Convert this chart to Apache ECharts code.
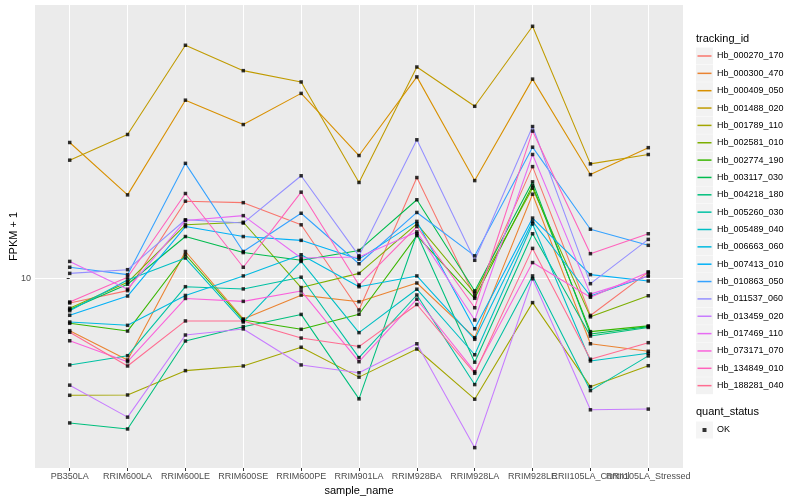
<!DOCTYPE html>
<html><head><meta charset="utf-8">
<script src="https://cdn.jsdelivr.net/npm/echarts@6/dist/echarts.min.js"></script>
<style>html,body{margin:0;padding:0;background:#fff}#c{width:800px;height:500px}</style>
</head><body><div id="c"></div>
<script>
const sampleNames = ['PB350LA','RRIM600LA','RRIM600LE','RRIM600SE','RRIM600PE','RRIM901LA','RRIM928BA','RRIM928LA','RRIM928LE','RRII105LA_Control','RRII105LA_Stressed'];
const trackingIds = ['Hb_000270_170','Hb_000300_470','Hb_000409_050','Hb_001488_020','Hb_001789_110','Hb_002581_010','Hb_002774_190','Hb_003117_030','Hb_004218_180','Hb_005260_030','Hb_005489_040','Hb_006663_060','Hb_007413_010','Hb_010863_050','Hb_011537_060','Hb_013459_020','Hb_017469_110','Hb_073171_070','Hb_134849_010','Hb_188281_040'];
const seriesColors = ['#F8766D','#EA8331','#D89000','#C09B00','#A3A500','#7CAE00','#39B600','#00BB4E','#00BF7D','#00C1A3','#00BFC4','#00BAE0','#00B0F6','#35A2FF','#9590FF','#C77CFF','#E76BF3','#FA62DB','#FF62BC','#FF6C91'];

// FPKM + 1 per sample (same order as sampleNames)
const Hb_000270_170 = [8.29, 9.11, 18.1, 17.9, 15.1, 7.85, 21.7, 8.70, 23.6, 7.53, 10.5];
const Hb_000300_470 = [6.70, 5.35, 12.3, 7.33, 8.80, 8.37, 9.66, 6.35, 19.1, 6.06, 5.72];
const Hb_000409_050 = [28.4, 19.0, 39.3, 32.6, 41.4, 25.7, 47.0, 21.2, 46.2, 22.2, 27.3];
const Hb_001488_020 = [24.8, 30.2, 59.9, 49.3, 45.2, 20.9, 50.7, 37.5, 69.3, 24.1, 25.9];
const Hb_001789_110 = [4.08, 4.09, 4.93, 5.11, 5.90, 4.69, 5.82, 3.96, 8.31, 4.36, 5.12];
const Hb_002581_010 = [7.96, 9.71, 15.1, 15.4, 9.33, 10.4, 15.2, 8.93, 20.0, 7.45, 8.76];
const Hb_002774_190 = [7.09, 6.68, 12.0, 7.27, 6.77, 7.60, 13.9, 8.59, 20.4, 6.65, 6.95];
const Hb_003117_030 = [7.88, 9.57, 13.8, 12.2, 11.5, 12.4, 18.3, 9.09, 21.0, 6.53, 6.91];
const Hb_004218_180 = [3.30, 3.15, 6.19, 6.91, 7.59, 3.97, 14.1, 5.26, 14.1, 6.43, 6.87];
const Hb_005260_030 = [5.15, 5.53, 9.39, 9.23, 10.1, 5.45, 8.81, 4.43, 10.2, 4.23, 5.52];
const Hb_005489_040 = [7.81, 9.89, 11.7, 7.16, 11.4, 6.60, 9.21, 5.57, 15.2, 5.31, 5.63];
const Hb_006663_060 = [7.16, 6.98, 8.78, 10.2, 12.0, 9.39, 10.2, 6.27, 15.5, 8.74, 10.2];
const Hb_007413_010 = [7.54, 8.74, 14.9, 13.8, 13.4, 11.6, 15.5, 6.80, 15.9, 10.3, 9.81];
const Hb_010863_050 = [10.9, 10.3, 24.2, 12.3, 16.5, 11.2, 16.6, 11.9, 27.4, 14.6, 12.9];
const Hb_011537_060 = [10.4, 10.7, 15.7, 15.3, 22.0, 11.9, 29.0, 11.5, 32.1, 9.61, 13.5];
const Hb_013459_020 = [4.41, 3.45, 6.48, 6.79, 5.15, 4.85, 6.06, 2.73, 9.98, 3.65, 3.67];
const Hb_017469_110 = [11.4, 9.21, 15.6, 16.2, 11.7, 11.8, 14.3, 7.27, 25.9, 8.87, 10.2];
const Hb_073171_070 = [6.20, 5.28, 8.58, 8.39, 9.09, 5.28, 8.53, 4.89, 11.3, 8.66, 10.5];
const Hb_134849_010 = [8.35, 10.1, 19.2, 10.9, 19.4, 9.51, 14.9, 7.99, 31.0, 12.1, 14.1];
const Hb_188281_040 = [6.62, 5.11, 7.22, 7.22, 6.33, 5.93, 8.19, 4.83, 12.6, 5.38, 6.11];

const seriesValues = [Hb_000270_170, Hb_000300_470, Hb_000409_050, Hb_001488_020, Hb_001789_110, Hb_002581_010, Hb_002774_190, Hb_003117_030, Hb_004218_180, Hb_005260_030, Hb_005489_040, Hb_006663_060, Hb_007413_010, Hb_010863_050, Hb_011537_060, Hb_013459_020, Hb_017469_110, Hb_073171_070, Hb_134849_010, Hb_188281_040];
const quantStatus = ['OK'];
const yTickValues = [10];
const yMin = 2.335, yMax = 81.6;

const FONT = "'Liberation Sans', Arial, Helvetica, sans-serif";
const chart = echarts.init(document.getElementById('c'), null, {renderer: 'canvas', width: 800, height: 500});

const xTicks = sampleNames.map((_, i) => i);
const lineSeries = trackingIds.map((id, k) => ({
  name: id, type: 'line',
  data: seriesValues[k].map((v, i) => [i, v]),
  showSymbol: false, symbol: 'none',
  color: seriesColors[k],
  lineStyle: {width: 1.07, color: seriesColors[k]},
  silent: true, z: 2
}));
const pointData = [];
seriesValues.forEach(arr => arr.forEach((v, i) => pointData.push([i, v])));

const LINE_ICON = 'path://M0,0 M1.5,7.75 L15.5,7.75 L15.5,9.25 L1.5,9.25 Z M17,17';
const DOT_ICON = 'path://M0,0 M6.5,6.5 L10.5,6.5 L10.5,10.5 L6.5,10.5 Z M17,17';
const legendBase = {orient: 'vertical', left: 696, itemWidth: 17, itemHeight: 17, itemGap: 0.35,
  selectedMode: false, padding: 0, itemStyle: {borderWidth: 0},
  textStyle: {fontSize: 9, fontFamily: FONT, color: '#000', padding: [0, 0, 0, -1]}};

// x labels split over three overlaid bottom axes so ECharts keeps the overlapping labels like ggplot does
const labelGroups = [xTicks.slice(0, 9), [9], [10]];
const xLabelBase = {fontSize: 9, color: '#4D4D4D', margin: 4, fontFamily: FONT, hideOverlap: false, interval: 0,
  formatter: v => sampleNames[Math.round(v)] || ''};
const xAxes = labelGroups.map((grp, gi) => ({
  type: 'value', min: -0.6, max: 10.6, position: 'bottom', gridIndex: 0,
  axisLine: {show: false},
  axisTick: gi === 0 ? {show: true, customValues: xTicks, length: 3, lineStyle: {color: '#333', width: 1}} : {show: false},
  axisLabel: Object.assign({customValues: grp}, xLabelBase),
  splitLine: gi === 0 ? {show: true, lineStyle: {color: '#FFFFFF', width: 1.07}} : {show: false},
  name: gi === 0 ? 'sample_name' : '', nameLocation: 'middle', nameGap: 15,
  nameTextStyle: {fontSize: 11, color: '#000', fontFamily: FONT}
}));

chart.setOption({
  animation: false,
  textStyle: {fontFamily: FONT},
  title: [
    {text: 'tracking_id', left: 696, top: 33, padding: 0, textStyle: {fontSize: 11, fontWeight: 'normal', color: '#000', fontFamily: FONT}},
    {text: 'quant_status', left: 696, top: 406, padding: 0, textStyle: {fontSize: 11, fontWeight: 'normal', color: '#000', fontFamily: FONT}}
  ],
  grid: {left: 35, top: 5, width: 648, height: 463, show: true, backgroundColor: '#EBEBEB', borderWidth: 0,
    containLabel: false, outerBoundsMode: 'none'},
  legend: [
    Object.assign({}, legendBase, {top: 47.5, z: 4,
      data: trackingIds.map(n => ({name: n, icon: 'rect', itemStyle: {color: '#F2F2F2', borderWidth: 0}})),
      textStyle: Object.assign({}, legendBase.textStyle, {color: 'rgba(0,0,0,0)'})}),
    Object.assign({}, legendBase, {top: 47.5, z: 5,
      data: trackingIds.map((n, k) => ({name: n, icon: LINE_ICON, itemStyle: {color: seriesColors[k], borderWidth: 0}}))}),
    Object.assign({}, legendBase, {top: 421.5, z: 4,
      data: quantStatus.map(n => ({name: n, icon: 'rect', itemStyle: {color: '#F2F2F2', borderWidth: 0}})),
      textStyle: Object.assign({}, legendBase.textStyle, {color: 'rgba(0,0,0,0)'})}),
    Object.assign({}, legendBase, {top: 421.5, z: 5,
      data: quantStatus.map(n => ({name: n, icon: DOT_ICON, itemStyle: {color: '#000', borderWidth: 0}}))})
  ],
  xAxis: xAxes,
  yAxis: {
    type: 'log', logBase: 10, min: yMin, max: yMax,
    axisLine: {show: false},
    axisTick: {show: true, customValues: yTickValues, length: 3, lineStyle: {color: '#333', width: 1}},
    axisLabel: {customValues: yTickValues, fontSize: 9, color: '#4D4D4D', margin: 4, fontFamily: FONT},
    splitLine: {show: true, lineStyle: {color: '#FFFFFF', width: 1.07}},
    minorSplitLine: {show: false},
    name: 'FPKM + 1', nameLocation: 'middle', nameGap: 16, nameRotate: 90, nameMoveOverlap: false,
    nameTextStyle: {fontSize: 11, color: '#000', fontFamily: FONT}
  },
  series: lineSeries.concat([{
    name: 'OK', type: 'scatter', data: pointData, symbol: 'rect', symbolSize: 3.5,
    itemStyle: {color: '#000'}, silent: true, z: 3
  }])
});
</script>
</body></html>
